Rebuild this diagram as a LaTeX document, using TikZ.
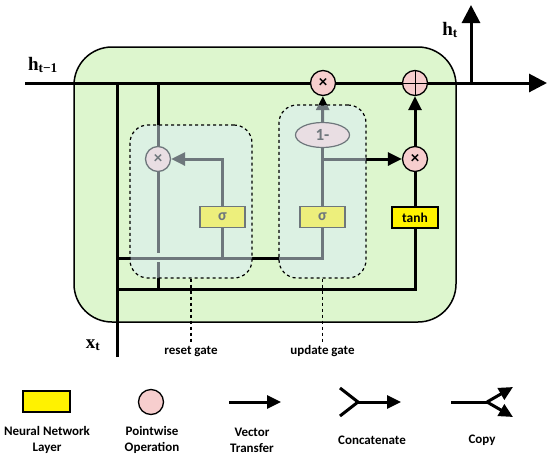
\documentclass[tikz,border=0pt]{standalone}
\usepackage{fontspec}
\setmainfont{Carlito}
\newfontfamily\hfont{Liberation Serif}
\usetikzlibrary{arrows.meta,shapes.geometric}
\definecolor{cellgreen}{RGB}{221,246,206}
\definecolor{oppink}{RGB}{247,206,206}
\definecolor{gatetint}{RGB}{220,238,248}
\pgfdeclarelayer{bg}
\pgfdeclarelayer{wires}
\pgfdeclarelayer{front}
\pgfsetlayers{bg,wires,main,front}

\begin{document}
\begin{tikzpicture}[x=1pt,y=-1pt,
    every node/.style={font=\fontsize{13}{16}\selectfont\bfseries},
    wire/.style={line width=3pt},
    layer/.style={draw, line width=1.2pt, fill=yellow, minimum width=45pt, minimum height=21pt, inner sep=0pt, font=\fontsize{16}{16}\selectfont\bfseries},
    pointop/.style={circle, draw, line width=1.3pt, fill=oppink, minimum size=25pt, inner sep=0pt, font=\fontsize{17}{17}\selectfont\bfseries},
    plusop/.style={pointop, path picture={\draw[line width=1pt] (path picture bounding box.north) -- (path picture bounding box.south) (path picture bounding box.west) -- (path picture bounding box.east);}},
    gatebox/.style={draw, dashed, line width=1.2pt, rounded corners=18pt, fill=gatetint, fill opacity=0.5, inner sep=0pt},
    bigtip/.style={-{Triangle[length=18pt,width=18pt]}},
    tip/.style={-{Triangle[length=14pt,width=13pt]}}]
    \useasboundingbox (0,0) rectangle (550,459);
    \begin{pgfonlayer}{bg}
        \draw[line width=1.5pt, fill=cellgreen, rounded corners=38pt] (74,47) rectangle (456,322);
    \end{pgfonlayer}
    \node[pointop] (umul) at (323,83) {×};
    \node[plusop] (plus) at (415,83) {};
    \node[pointop] (tmul) at (415,159) {×};
    \node[pointop] (rmul) at (158,159) {×};
    \node[layer] (rsig) at (222.5,217) {σ};
    \node[layer] (usig) at (322.5,217) {σ};
    \node[layer, minimum width=46pt, font=\fontsize{13.5}{14}\selectfont\bfseries] (tanh) at (415,217.5) {tanh};
    \node[ellipse, draw, line width=1.2pt, fill=oppink, minimum width=54pt, minimum height=25pt, inner sep=0pt, font=\fontsize{17}{17}\selectfont\bfseries] (onem) at (322.5,135) {1-};
    \coordinate (hin) at (25,83);
    \coordinate (hout) at (547,83);
    \coordinate (hsplit) at (471,83);
    \coordinate (htop) at (471,5);
    \coordinate (xin) at (117,357);
    \coordinate (xtop) at (117,83);
    \coordinate (rtop) at (158,83);
    \coordinate (gfeed) at (117,258);
    \coordinate (cfeed) at (117,289);
    \coordinate (rjumpa) at (158,253);
    \coordinate (rjumpb) at (158,262);
    \coordinate (rjoin) at (158,289);
    \begin{pgfonlayer}{wires}
        \draw[wire,bigtip] (hin) -- (hout);
        \draw[wire,bigtip] (hsplit) -- (htop);
        \draw[wire] (xin) -- (xtop);
        \draw[wire] (rtop) -- (rmul);
        \draw[wire] (gfeed) -| (usig);
        \draw[wire] (rsig) -- (rsig |- gfeed);
        \draw[wire,tip] (rsig) |- (rmul);
        \draw[wire] (usig) -- (onem);
        \draw[wire,tip] (onem) -- (umul);
        \draw[wire,tip] (onem |- tmul) -- (tmul);
        \draw[wire] (rmul) -- (rjumpa);
        \draw[wire] (rjumpb) -- (rjoin);
        \draw[wire] (cfeed) -| (tanh);
        \draw[wire] (tanh) -- (tmul);
        \draw[wire,tip] (tmul) -- (plus);
    \end{pgfonlayer}
    \begin{pgfonlayer}{front}
        \node[gatebox, minimum width=122pt, minimum height=153pt] (rgate) at (191,201.5) {};
        \node[gatebox, minimum width=87pt, minimum height=173pt] (ugate) at (322.5,191.5) {};
    \end{pgfonlayer}
    \node (rlabel) at (191,351) {reset gate};
    \node (ulabel) at (322.5,351) {update gate};
    \draw[dashed, line width=1.2pt] (rgate.south) -- (rlabel);
    \draw[dashed, line width=1.2pt] (ugate.south) -- (ulabel);
    \node[font=\fontsize{19}{19}\selectfont\hfont\bfseries] (hprev) at (43,65) {h\textsubscript{t−1}};
    \node[font=\fontsize{19}{19}\selectfont\hfont\bfseries] (hnext) at (450,30) {h\textsubscript{t}};
    \node[font=\fontsize{19}{19}\selectfont\hfont\bfseries] (xlab) at (93,345) {x\textsubscript{t}};
    % legend
    \node[layer, minimum width=47pt] (leglayer) at (46.5,401.5) {};
    \node[align=center] (leglayertext) at (47,440) {Neural Network\\Layer};
    \node[pointop] (legop) at (151,402) {};
    \node[align=center] (legoptext) at (152,440) {Pointwise\\Operation};
    \coordinate (veca) at (229,402);
    \coordinate (vecb) at (281,402);
    \draw[wire,tip] (veca) -- (vecb);
    \node[align=center] (vectext) at (252,440) {Vector\\Transfer};
    \coordinate (cata) at (340,388);
    \coordinate (catb) at (340,416);
    \coordinate (catm) at (358,402);
    \coordinate (cate) at (401,402);
    \draw[wire] (cata) -- (catm) -- (catb);
    \draw[wire,tip] (catm) -- (cate);
    \node (cattext) at (372,440) {Concatenate};
    \coordinate (cpya) at (451,402);
    \coordinate (cpym) at (487,402);
    \coordinate (cpyu) at (513,387);
    \coordinate (cpyd) at (513,417);
    \draw[wire] (cpya) -- (cpym);
    \draw[wire,tip] (cpym) -- (cpyu);
    \draw[wire,tip] (cpym) -- (cpyd);
    \node (cpytext) at (482,440) {Copy};
\end{tikzpicture}
\end{document}
